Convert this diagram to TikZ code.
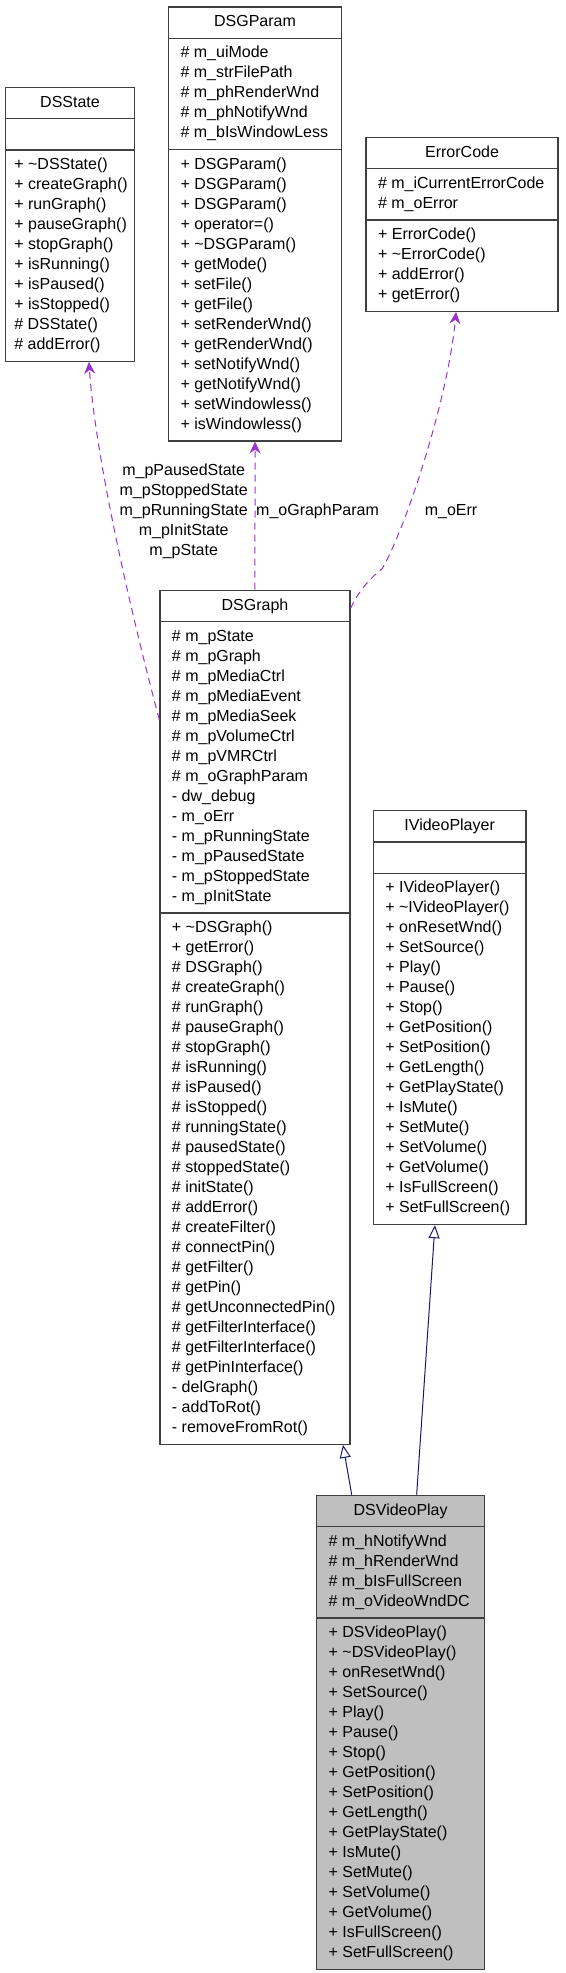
\documentclass[tikz,border=0pt]{standalone}
\usepackage{fontspec}
\setmainfont{Liberation Sans}
\usetikzlibrary{arrows.meta,calc,shapes.multipart}
\definecolor{frame}{HTML}{404040}
\definecolor{usage}{HTML}{9A32CD}
\definecolor{base}{HTML}{191970}
\definecolor{focus}{HTML}{BFBFBF}
\newcommand\dxfont{\fontsize{16}{20}\selectfont}
\newcommand\tld{\textasciitilde}
\newcommand\clhead[2]{\makebox[#1][c]{\strut #2}}
\newcommand\cllist[2]{\makebox[#1][l]{\begin{tabular}{@{}l@{}}#2\end{tabular}}}

\begin{document}
\begin{tikzpicture}[x=1pt,y=-1pt,font=\dxfont,
 cls/.style={rectangle split,rectangle split parts=3,draw=frame,line width=1.3pt,fill=white,inner xsep=12pt,inner ysep=5pt,anchor=north west},
 uses/.style={usage,line width=1pt,dash pattern=on 7pt off 5pt,-{Stealth[length=12pt,width=11pt,inset=4pt]}},
 isa/.style={base,line width=1pt,-{Triangle[open,length=13pt,width=11pt]}},
 lbl/.style={inner sep=0pt,align=center}]
\useasboundingbox (0,0) rectangle (565,1973);
% top row: the used classes
\node[cls,inner xsep=9pt] (dsstate) at (4.7,86.7) {\clhead{111.3pt}{DSState}
 \nodepart{two}\strut
 \nodepart{three}\cllist{111.3pt}{+ \tld DSState()\\+ createGraph()\\+ runGraph()\\+ pauseGraph()\\+ stopGraph()\\+ isRunning()\\+ isPaused()\\+ isStopped()\\\# DSState()\\\# addError()}};
\node[cls] (dsgparam) at (167.9,6.3) {\clhead{149pt}{DSGParam}
 \nodepart{two}\cllist{149pt}{\# m\_uiMode\\\# m\_strFilePath\\\# m\_phRenderWnd\\\# m\_phNotifyWnd\\\# m\_bIsWindowLess}
 \nodepart{three}\cllist{149pt}{+ DSGParam()\\+ DSGParam()\\+ DSGParam()\\+ operator=()\\+ \tld DSGParam()\\+ getMode()\\+ setFile()\\+ getFile()\\+ setRenderWnd()\\+ getRenderWnd()\\+ setNotifyWnd()\\+ getNotifyWnd()\\+ setWindowless()\\+ isWindowless()}};
\node[cls] (errorcode) at (365.4,136.7) {\clhead{168pt}{ErrorCode}
 \nodepart{two}\cllist{168pt}{\# m\_iCurrentErrorCode\\\# m\_oError}
 \nodepart{three}\cllist{168pt}{+ ErrorCode()\\+ \tld ErrorCode()\\+ addError()\\+ getError()}};
% middle: the graph and the interface
\node[cls] (dsgraph) at (159.3,589.7) {\clhead{166pt}{DSGraph}
 \nodepart{two}\cllist{166pt}{\# m\_pState\\\# m\_pGraph\\\# m\_pMediaCtrl\\\# m\_pMediaEvent\\\# m\_pMediaSeek\\\# m\_pVolumeCtrl\\\# m\_pVMRCtrl\\\# m\_oGraphParam\\- dw\_debug\\- m\_oErr\\- m\_pRunningState\\- m\_pPausedState\\- m\_pStoppedState\\- m\_pInitState}
 \nodepart{three}\cllist{166pt}{+ \tld DSGraph()\\+ getError()\\\# DSGraph()\\\# createGraph()\\\# runGraph()\\\# pauseGraph()\\\# stopGraph()\\\# isRunning()\\\# isPaused()\\\# isStopped()\\\# runningState()\\\# pausedState()\\\# stoppedState()\\\# initState()\\\# addError()\\\# createFilter()\\\# connectPin()\\\# getFilter()\\\# getPin()\\\# getUnconnectedPin()\\\# getFilterInterface()\\\# getFilterInterface()\\\# getPinInterface()\\- delGraph()\\- addToRot()\\- removeFromRot()}};
\node[cls] (ivideoplayer) at (372.7,810) {\clhead{128.6pt}{IVideoPlayer}
 \nodepart{two}\strut
 \nodepart{three}\cllist{128.6pt}{+ IVideoPlayer()\\+ \tld IVideoPlayer()\\+ onResetWnd()\\+ SetSource()\\+ Play()\\+ Pause()\\+ Stop()\\+ GetPosition()\\+ SetPosition()\\+ GetLength()\\+ GetPlayState()\\+ IsMute()\\+ SetMute()\\+ SetVolume()\\+ GetVolume()\\+ IsFullScreen()\\+ SetFullScreen()}};
% bottom: the class itself
\node[cls,fill=focus] (dsvideoplay) at (316,1494.7) {\clhead{144pt}{DSVideoPlay}
 \nodepart{two}\cllist{144pt}{\# m\_hNotifyWnd\\\# m\_hRenderWnd\\\# m\_bIsFullScreen\\\# m\_oVideoWndDC}
 \nodepart{three}\cllist{144pt}{+ DSVideoPlay()\\+ \tld DSVideoPlay()\\+ onResetWnd()\\+ SetSource()\\+ Play()\\+ Pause()\\+ Stop()\\+ GetPosition()\\+ SetPosition()\\+ GetLength()\\+ GetPlayState()\\+ IsMute()\\+ SetMute()\\+ SetVolume()\\+ GetVolume()\\+ IsFullScreen()\\+ SetFullScreen()}};
% usage edges
\draw[uses] ($(dsgraph.north west)+(0,130)$) .. controls (125,590) and (95,450) .. ($(dsstate.south)+(18.9,0)$);
\draw[uses] (dsgraph.north) -- (dsgparam.south);
\draw[uses] ($(dsgraph.north east)+(0,18.6)$) .. controls (358,592) and (370,578) .. (382,569) .. controls (405,530) and (448,400) .. ($(errorcode.south)+(-6,0)$);
\node[lbl] (lstate) at (183.7,511.7) {m\_pPausedState\\m\_pStoppedState\\m\_pRunningState\\m\_pInitState\\m\_pState};
\node[lbl,anchor=west] (lparam) at (256,511.7) {m\_oGraphParam};
\node[lbl] (lerr) at (451,511.7) {m\_oErr};
% inheritance
\draw[isa] ($(dsvideoplay.north west)+(35.7,0)$) -- ($(dsgraph.south east)+(-7.6,0)$);
\draw[isa] ($(dsvideoplay.north)+(16,0)$) -- ($(ivideoplayer.south)+(-14.7,0)$);
\end{tikzpicture}
\end{document}
